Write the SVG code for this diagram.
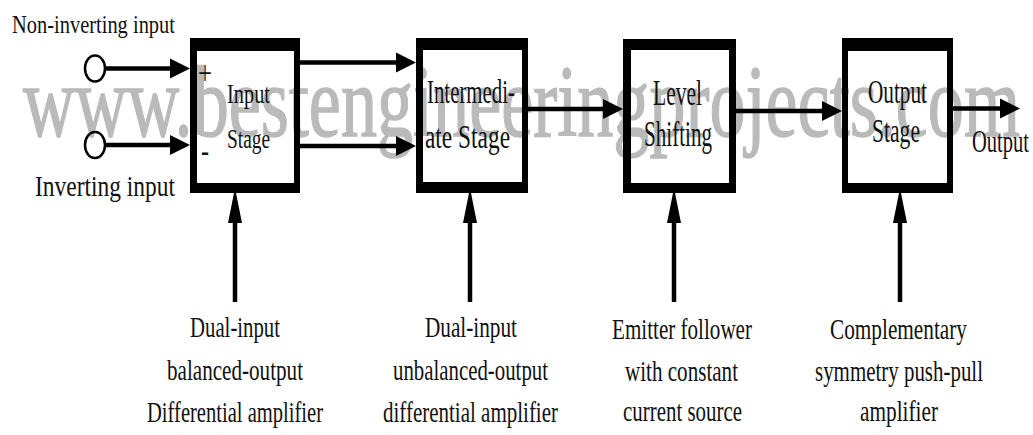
<svg xmlns="http://www.w3.org/2000/svg" width="1033" height="435" viewBox="0 0 1033 435">
<style>
.t{font-family:"Liberation Serif","Times New Roman",serif;fill:#111;}
.c{text-anchor:middle;}
.wm{font-family:"Liberation Serif","Times New Roman",serif;fill:#bababa;stroke:#bababa;stroke-width:1.5;font-size:102px;}
.box{fill:#000;fill-rule:evenodd;}
.ln{stroke:#000;stroke-width:4.5;fill:none;}
.hz{marker-end:url(#ah);}
.vt{marker-end:url(#av);}
</style>
<defs>
<marker id="ah" markerUnits="userSpaceOnUse" markerWidth="20" markerHeight="20" refX="10" refY="10" orient="auto" overflow="visible">
<path d="M0,0 L20,10 L0,20 Z" fill="#000"/>
</marker>
<marker id="av" markerUnits="userSpaceOnUse" markerWidth="35" markerHeight="14" refX="15" refY="7" orient="auto" overflow="visible">
<path d="M0,0 L35,7 L0,14 Z" fill="#000"/>
</marker>
</defs>
<rect width="1033" height="435" fill="#fff"/>
<text class="wm" x="23" y="136" textLength="997" lengthAdjust="spacingAndGlyphs">www.bestengineeringprojects.com</text>

<g id="connectors">
<ellipse cx="95" cy="68.5" rx="10" ry="13" fill="none" stroke="#000" stroke-width="2.5"/>
<ellipse cx="95" cy="145" rx="10" ry="13" fill="none" stroke="#000" stroke-width="2.5"/>
<line class="ln hz" x1="105" y1="68.5" x2="180" y2="68.5"/>
<line class="ln hz" x1="105" y1="145" x2="180" y2="145"/>
<line class="ln hz" x1="300" y1="62.5" x2="406" y2="62.5"/>
<line class="ln hz" x1="300" y1="146" x2="406" y2="146"/>
<line class="ln hz" x1="528" y1="109" x2="613" y2="109"/>
<line class="ln hz" x1="736" y1="111" x2="832" y2="111"/>
<line class="ln hz" x1="953" y1="108.5" x2="1010" y2="108.5"/>
<line class="ln vt" x1="235" y1="302" x2="235" y2="208"/>
<line class="ln vt" x1="470" y1="302" x2="470" y2="208"/>
<line class="ln vt" x1="674" y1="302" x2="674" y2="208"/>
<line class="ln vt" x1="900" y1="302" x2="900" y2="208"/>
</g>

<g id="input-labels">
<text class="t" x="12" y="33" font-size="26" textLength="163" lengthAdjust="spacingAndGlyphs">Non-inverting input</text>
<text class="t" x="35" y="196" font-size="29" textLength="140" lengthAdjust="spacingAndGlyphs">Inverting input</text>
</g>

<g id="input-stage">
<path class="box" d="M190,38 H300 V193 H190 Z M197,51 H294 V183 H197 Z"/>
<text class="t" x="198" y="84" font-size="34" textLength="14" lengthAdjust="spacingAndGlyphs">+</text>
<text class="t" x="201" y="161" font-size="30" font-weight="bold" textLength="8" lengthAdjust="spacingAndGlyphs">-</text>
<text class="t c" x="248.5" y="103" font-size="28" textLength="43" lengthAdjust="spacingAndGlyphs">Input</text>
<text class="t c" x="248.5" y="148" font-size="28" textLength="43" lengthAdjust="spacingAndGlyphs">Stage</text>
</g>

<g id="intermediate-stage">
<path class="box" d="M416,38 H528 V193 H416 Z M423,50 H522 V182 H423 Z"/>
<text class="t c" x="471" y="103" font-size="33" textLength="88" lengthAdjust="spacingAndGlyphs">Intermedi-</text>
<text class="t c" x="467.5" y="148" font-size="33" textLength="85" lengthAdjust="spacingAndGlyphs">ate Stage</text>
</g>

<g id="level-shifting">
<path class="box" d="M623,39 H736 V193 H623 Z M631,50 H729 V183 H631 Z"/>
<text class="t c" x="677.5" y="105" font-size="35" textLength="49" lengthAdjust="spacingAndGlyphs">Level</text>
<text class="t c" x="678" y="146" font-size="35" textLength="68" lengthAdjust="spacingAndGlyphs">Shifting</text>
</g>

<g id="output-stage">
<path class="box" d="M842,38 H953 V193 H842 Z M848,51 H947 V183 H848 Z"/>
<text class="t c" x="897.5" y="103" font-size="33" textLength="59" lengthAdjust="spacingAndGlyphs">Output</text>
<text class="t c" x="896" y="142" font-size="33" textLength="48" lengthAdjust="spacingAndGlyphs">Stage</text>
</g>

<g id="output-label">
<text class="t" x="972" y="152" font-size="32" textLength="57" lengthAdjust="spacingAndGlyphs">Output</text>
</g>

<g id="note-input">
<text class="t c" x="235" y="337" font-size="29" textLength="90" lengthAdjust="spacingAndGlyphs">Dual-input</text>
<text class="t c" x="235" y="380" font-size="29" textLength="136" lengthAdjust="spacingAndGlyphs">balanced-output</text>
<text class="t c" x="235" y="422" font-size="29" textLength="176" lengthAdjust="spacingAndGlyphs">Differential amplifier</text>
</g>

<g id="note-intermediate">
<text class="t c" x="471" y="337" font-size="29" textLength="92" lengthAdjust="spacingAndGlyphs">Dual-input</text>
<text class="t c" x="470.5" y="380" font-size="29" textLength="155" lengthAdjust="spacingAndGlyphs">unbalanced-output</text>
<text class="t c" x="470.5" y="422" font-size="29" textLength="175" lengthAdjust="spacingAndGlyphs">differential amplifier</text>
</g>

<g id="note-level">
<text class="t c" x="682" y="339" font-size="29" textLength="140" lengthAdjust="spacingAndGlyphs">Emitter follower</text>
<text class="t c" x="681.5" y="381" font-size="29" textLength="113" lengthAdjust="spacingAndGlyphs">with constant</text>
<text class="t c" x="682.5" y="421" font-size="29" textLength="119" lengthAdjust="spacingAndGlyphs">current source</text>
</g>

<g id="note-output">
<text class="t c" x="898.5" y="339" font-size="29" textLength="137" lengthAdjust="spacingAndGlyphs">Complementary</text>
<text class="t c" x="899" y="381" font-size="29" textLength="168" lengthAdjust="spacingAndGlyphs">symmetry push-pull</text>
<text class="t c" x="899" y="421" font-size="29" textLength="78" lengthAdjust="spacingAndGlyphs">amplifier</text>
</g>
</svg>
